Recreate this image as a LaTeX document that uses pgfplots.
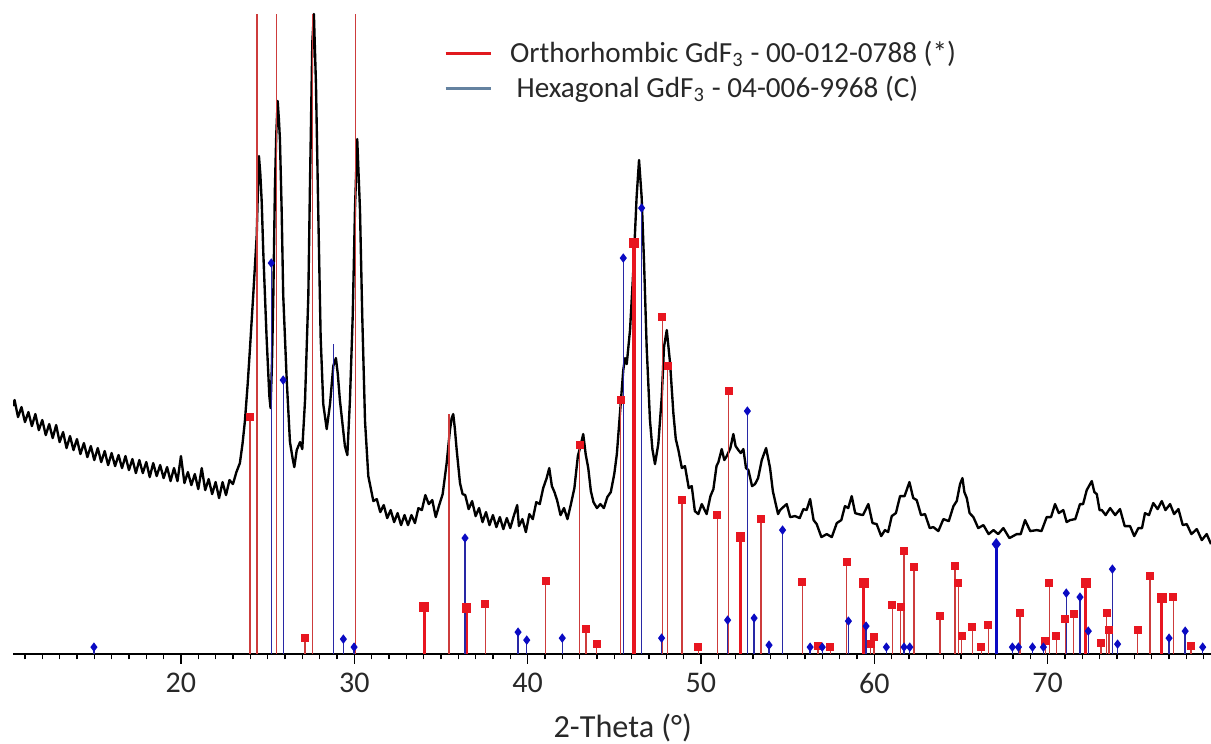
\documentclass[border=0pt]{standalone}
\usepackage{fontspec}
\setmainfont{Carlito}
\usepackage{pgfplots}
\pgfplotsset{compat=1.18}

\definecolor{stickred}{RGB}{205,60,60}
\definecolor{markred}{RGB}{232,22,32}
\definecolor{stickblue}{RGB}{40,40,165}
\definecolor{markblue}{RGB}{10,10,195}
\definecolor{legred}{RGB}{225,25,30}
\definecolor{legblue}{RGB}{100,130,160}
\definecolor{txt}{RGB}{40,40,40}

\begin{document}
\begin{tikzpicture}
\begin{axis}[name=ax, scale only axis, width=431.2pt, height=235.44pt,
  xmin=10.31, xmax=79.43, ymin=0, ymax=654,
  axis x line=bottom, axis y line=none,
  axis line style={-, line width=0.6pt, black},
  xtick={20,30,...,70}, minor xtick={11,...,79},
  tick align=outside, major tick length=3.4pt, minor tick length=1.9pt,
  tick style={black, line width=0.5pt},
  /pgf/number format/assume math mode=true,
  xticklabel style={font=\fontsize{10.8}{12}\selectfont, text=txt},
  xlabel={2-Theta (°)},
  xlabel style={at={(axis description cs:0.509,0)}, anchor=north, yshift=-18.0pt,
    font=\fontsize{11.6}{13}\selectfont, text=txt},
  legend style={at={(axis description cs:0.3525,0.955)}, anchor=north west,
    draw=none, fill=none, font=\fontsize{10.5}{12}\selectfont, text=txt,
    row sep=-0.6pt, /tikz/every odd column/.append style={column sep=4.4pt}},
  legend cell align=left,
  legend image code/.code={\draw[#1] (0pt,0pt) -- (16.2pt,0pt);},
]
\addlegendimage{legred, line width=1.0pt}
\addlegendentry{Orthorhombic GdF\textsubscript{3} - 00-012-0788 (*)}
\addlegendimage{legblue, line width=1.1pt}
\addlegendentry{\ Hexagonal GdF\textsubscript{3} - 04-006-9968 (C)}

% measured pattern
\addplot[black, line width=0.85pt, line join=round, forget plot] coordinates {
(10.31,248) (10.4,254) (10.6,237) (10.8,247) (11.0,232) (11.2,242) (11.4,228) (11.6,240) (11.8,224)
(12.0,234) (12.2,219) (12.4,230) (12.6,216) (12.8,229) (13.0,212) (13.2,222) (13.4,206) (13.6,218)
(13.8,204) (14.0,215) (14.2,200) (14.4,211) (14.6,197) (14.8,208) (15.0,194) (15.2,206) (15.4,192)
(15.6,203) (15.8,189) (16.0,201) (16.2,188) (16.4,199) (16.6,186) (16.8,198) (17.0,184) (17.2,195)
(17.4,181) (17.6,194) (17.8,181) (18.0,192) (18.2,177) (18.4,191) (18.6,178) (18.8,189) (19.0,176)
(19.2,187) (19.4,173) (19.6,186) (19.8,173) (20.0,198) (20.2,171) (20.4,182) (20.6,169) (20.8,180)
(21.0,165) (21.2,186) (21.4,164) (21.6,175) (21.8,160) (22.0,172) (22.2,156) (22.4,172) (22.6,159)
(22.8,174) (23.0,170) (23.2,182) (23.4,191) (23.55,210) (23.69,233) (23.85,270) (23.98,305)
(24.17,359) (24.37,418) (24.45,470) (24.5,498) (24.58,480) (24.66,452) (24.75,402) (24.94,317)
(25.1,258) (25.17,246) (25.25,290) (25.33,359) (25.42,465) (25.5,520) (25.58,553) (25.65,535)
(25.71,515) (25.81,444) (25.9,359) (26.1,275) (26.29,212) (26.45,195) (26.54,187) (26.68,204)
(26.87,212) (27.0,205) (27.16,254) (27.35,359) (27.44,465) (27.58,612) (27.67,640) (27.79,570)
(27.92,444) (28.06,317) (28.21,250) (28.41,225) (28.6,250) (28.79,288) (28.94,296) (29.05,280)
(29.17,254) (29.46,208) (29.6,199) (29.75,254) (29.91,338) (30.04,444) (30.17,515) (30.33,444)
(30.46,338) (30.62,233) (30.81,178) (31.1,153)
(31.3,155) (31.5,142) (31.7,149) (31.9,136) (32.1,144) (32.3,132) (32.5,141) (32.7,129) (32.9,139)
(33.1,129) (33.3,139) (33.5,131) (33.7,146) (33.9,144) (34.1,159) (34.3,150) (34.5,154) (34.7,137)
(34.9,149) (35.1,160) (35.33,191) (35.52,224) (35.62,236) (35.71,240) (35.8,226) (35.91,204)
(36.1,171) (36.25,160) (36.4,159) (36.6,145) (36.8,153) (37.0,138) (37.2,146) (37.4,132) (37.6,142)
(37.8,129) (38.0,139) (38.2,127) (38.4,137) (38.6,125) (38.8,136) (39.0,126) (39.2,138) (39.4,149)
(39.5,128) (39.7,135) (39.9,122) (40.1,140) (40.3,135) (40.5,152) (40.7,150) (40.9,166) (41.1,176)
(41.25,186) (41.4,168) (41.55,162) (41.7,154) (41.9,139) (42.1,146) (42.3,135) (42.5,150) (42.7,166)
(42.9,198) (43.05,208) (43.21,220) (43.35,200) (43.5,186) (43.65,163) (43.8,152) (44.0,146)
(44.2,150) (44.4,146) (44.6,157) (44.8,162) (45.0,180) (45.15,200) (45.33,241) (45.52,284)
(45.62,296) (45.72,290) (45.91,324) (46.1,384) (46.29,457) (46.43,494) (46.58,457) (46.72,391)
(46.87,307) (47.06,234) (47.2,205) (47.35,190) (47.54,210) (47.74,257) (47.87,307) (48.03,324)
(48.22,291) (48.41,241) (48.55,215) (48.7,204) (48.9,186) (49.08,188) (49.3,166) (49.47,168)
(49.65,143) (49.85,140) (50.05,150) (50.33,140) (50.55,158) (50.72,165) (50.9,188) (51.01,192)
(51.2,205) (51.35,194) (51.49,198) (51.7,206) (51.87,220) (52.0,208) (52.16,204) (52.3,201)
(52.45,205) (52.6,186) (52.74,184) (52.95,168) (53.12,170) (53.3,176) (53.51,194) (53.76,206)
(53.9,194) (53.99,186) (54.15,163) (54.28,153) (54.45,140) (54.57,144) (54.75,147) (54.95,150)
(55.15,137) (55.43,138) (55.7,136) (55.91,145) (56.1,144) (56.3,155) (56.5,134) (56.68,130)
(56.95,117) (57.26,120) (57.55,117) (57.84,131) (58.1,134) (58.31,148) (58.5,146) (58.7,158)
(58.9,141) (59.08,140) (59.35,139) (59.66,150) (59.9,131) (60.14,130) (60.4,118) (60.62,124)
(60.8,122) (61.01,138) (61.25,141) (61.49,158) (61.75,158) (62.03,172) (62.25,156) (62.45,154)
(62.7,139) (62.93,140) (63.2,126) (63.41,127) (63.7,123) (63.99,135) (64.3,133) (64.57,148)
(64.76,153) (64.95,170) (65.09,176) (65.2,162) (65.34,156) (65.5,141) (65.72,137) (66.0,126)
(66.3,129) (66.6,120) (66.88,124) (67.15,120) (67.45,126) (67.8,116) (68.22,120) (68.45,120)
(68.7,134) (69.0,123) (69.38,124) (69.65,123) (69.95,137) (70.2,137) (70.43,150) (70.65,141)
(70.91,144) (71.1,132) (71.3,134) (71.6,135) (71.87,150) (72.05,150) (72.26,164) (72.55,173)
(72.7,162) (72.84,160) (73.0,144) (73.13,144) (73.35,139) (73.61,146) (73.9,139) (74.18,145)
(74.45,128) (74.76,128) (75.0,118) (75.24,126) (75.45,126) (75.62,141) (75.85,139) (76.1,151)
(76.35,145) (76.59,153) (76.8,144) (77.07,150) (77.3,140) (77.55,145) (77.8,129) (78.03,130)
(78.3,120) (78.61,125) (78.9,114) (79.18,120) (79.43,110)
};

% orthorhombic reference lines (red)
\addplot[ycomb, stickred, line width=0.55pt, forget plot] coordinates {
(24.40,640) (25.52,640) (27.58,640) (30.06,640) (35.48,240)
};
\addplot[ycomb, stickred, line width=0.5pt, forget plot,
  mark=square*, mark size=1.2pt, mark options={solid, fill=markred, draw=markred}] coordinates {
(23.98,237) (27.16,16) (37.56,50) (41.04,73) (43.0,209) (43.37,25) (43.99,10) (45.37,254)
(47.77,337) (48.08,288) (48.9,154) (49.85,7) (50.95,139) (51.6,263) (53.47,135) (55.85,72)
(56.75,8) (57.47,7) (58.41,92) (59.8,10) (59.99,17) (61.04,49) (61.53,47) (61.71,103) (62.3,87)
(63.8,38) (64.67,88) (64.85,71) (65.05,18) (65.66,27) (66.18,7) (66.58,29) (68.41,41) (69.88,13)
(70.1,71) (70.5,18) (71.03,35) (71.51,40) (73.09,11) (73.41,41) (73.55,24) (75.2,24) (75.91,78)
(77.25,57) (78.28,8)
};
\addplot[ycomb, markred, line width=1.1pt, forget plot,
  mark=square*, mark size=1.2pt, mark options={solid, fill=markred, draw=markred}] coordinates {
(34.04,47) (36.48,46) (46.14,411) (52.28,117) (59.4,71) (72.21,71) (76.6,56)
};

% hexagonal reference lines (blue)
\addplot[ycomb, stickblue, line width=0.5pt, forget plot] coordinates {
(28.81,310)
};
\addplot[ycomb, stickblue, line width=0.5pt, forget plot,
  mark=diamond*, mark size=1.3pt, mark options={solid, fill=markblue, draw=markblue}] coordinates {
(14.98,7) (25.21,391) (25.9,274) (29.37,15) (29.99,7) (36.39,116) (39.45,22) (39.95,14) (42.0,16)
(45.52,396) (46.58,446) (47.73,16) (51.54,34) (52.68,243) (53.07,36) (53.93,9) (54.71,124)
(56.3,7) (57.0,7) (58.51,33) (59.53,28) (60.7,7) (61.72,7) (62.05,7) (67.97,7) (68.32,7) (69.13,7)
(69.76,7) (71.08,61) (71.87,57) (72.35,23) (73.74,85) (74.04,10) (77.01,16) (77.94,23) (78.95,7)
};
\addplot[ycomb, markblue, line width=1.1pt, forget plot,
  mark=diamond*, mark size=1.3pt, mark options={solid, fill=markblue, draw=markblue}] coordinates {
(67.04,110)
};
\end{axis}
\pgfresetboundingbox
\path ([xshift=-4.68pt,yshift=-32.04pt]ax.south west) rectangle (ax.north east);
\end{tikzpicture}
\end{document}
